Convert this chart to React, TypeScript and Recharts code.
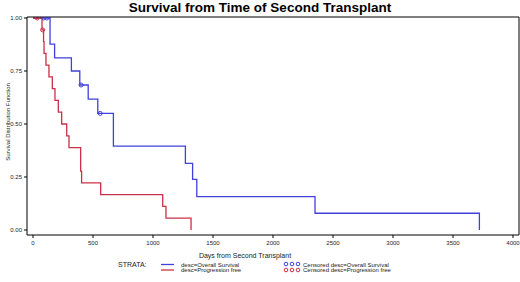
import React from "react";
import { ComposedChart, Line, Scatter, XAxis, YAxis } from "recharts";

const blueDays = [0, 142, 180, 320, 390, 460, 540, 670, 1270, 1330, 1365, 2350, 3720];
const blueSurv = [1, 0.877, 0.812, 0.75, 0.684, 0.617, 0.55, 0.396, 0.314, 0.239, 0.157, 0.079, 0];
const redDays = [0, 75, 88, 92, 108, 133, 161, 183, 211, 239, 281, 300, 397, 405, 564, 1081, 1108, 1317];
const redSurv = [1, 0.944, 0.889, 0.833, 0.778, 0.722, 0.667, 0.611, 0.556, 0.5, 0.444, 0.389, 0.278, 0.222, 0.167, 0.111, 0.056, 0];
const blueCensDays = [90, 115, 400, 560];
const blueCensSurv = [1, 1, 0.684, 0.55];
const redCensDays = [35, 80];
const redCensSurv = [1, 0.944];
const xTicks = [0, 500, 1000, 1500, 2000, 2500, 3000, 3500, 4000];
const yTicks = [0, 0.25, 0.5, 0.75, 1];

const BLUE = "#4040dc";
const RED = "#cc3048";
const FONT = "'Liberation Sans', Arial, sans-serif";

const toPts = (xs: number[], ys: number[]) => xs.map((d, i) => ({ day: d, s: ys[i] }));
const blueData = toPts(blueDays, blueSurv);
const redData = toPts(redDays, redSurv);
const blueCens = toPts(blueCensDays, blueCensSurv);
const redCens = toPts(redCensDays, redCensSurv);

const circle = (color: string) => (props: any) => (
  <circle cx={props.cx} cy={props.cy} r={2} fill="none" stroke={color} strokeWidth={1} />
);

export default function App() {
  const tickStyle = { fontSize: 6, fill: "#222", fontFamily: FONT };
  return (
    <div style={{ position: "absolute", left: 0, top: 0, width: 520, height: 282, background: "#fff" }}>
      <ComposedChart width={520} height={282} margin={{ top: 16, right: 0, bottom: 46, left: 26 }}>
        <XAxis
          xAxisId="b"
          dataKey="day"
          type="number"
          domain={[-50, 4050]}
          ticks={xTicks}
          height={1}
          tickSize={3}
          tickMargin={3}
          tick={tickStyle}
          axisLine={{ stroke: "#000" }}
          tickLine={{ stroke: "#000" }}
          allowDataOverflow
        />
        <XAxis xAxisId="t" orientation="top" type="number" dataKey="day" domain={[-50, 4050]} height={1} tick={false} tickLine={false} axisLine={{ stroke: "#000" }} />
        <YAxis
          yAxisId="l"
          type="number"
          dataKey="s"
          domain={[-0.0236, 1.0047]}
          ticks={yTicks}
          width={1}
          tickSize={3}
          tickMargin={2}
          tick={tickStyle}
          tickFormatter={(v: number) => v.toFixed(2)}
          axisLine={{ stroke: "#000" }}
          tickLine={{ stroke: "#000" }}
          allowDataOverflow
        />
        <YAxis yAxisId="r" orientation="right" type="number" dataKey="s" domain={[0, 1]} width={1} tick={false} tickLine={false} axisLine={{ stroke: "#000" }} />
        <Line xAxisId="b" yAxisId="l" data={blueData} dataKey="s" type="stepAfter" stroke={BLUE} strokeWidth={1.3} dot={false} isAnimationActive={false} />
        <Line xAxisId="b" yAxisId="l" data={redData} dataKey="s" type="stepAfter" stroke={RED} strokeWidth={1.3} dot={false} isAnimationActive={false} />
        <Scatter xAxisId="b" yAxisId="l" data={blueCens} dataKey="s" shape={circle(BLUE)} isAnimationActive={false} />
        <Scatter xAxisId="b" yAxisId="l" data={redCens} dataKey="s" shape={circle(RED)} isAnimationActive={false} />
        <Line xAxisId="t" yAxisId="r" data={blueData} dataKey="s" stroke="none" dot={false} isAnimationActive={false} legendType="none" />
      </ComposedChart>
      <svg width={520} height={282} style={{ position: "absolute", left: 0, top: 0, pointerEvents: "none" }}>
        <text x={260} y={12} textAnchor="middle" fontFamily={FONT} fontWeight="bold" fontSize={13.5} fill="#000">
          Survival from Time of Second Transplant
        </text>
        <text x={10} y={122} transform="rotate(-90 10 122)" textAnchor="middle" fontFamily={FONT} fontSize={6} fill="#222">
          Survival Distribution Function
        </text>
        <text x={245} y={258} textAnchor="middle" fontFamily={FONT} fontSize={7} fill="#222">
          Days from Second Transplant
        </text>
        <text x={118} y={267} fontFamily={FONT} fontSize={7} fill="#222">STRATA:</text>
        <line x1={161} x2={174} y1={264.5} y2={264.5} stroke={BLUE} strokeWidth={1.3} />
        <line x1={161} x2={174} y1={270} y2={270} stroke={RED} strokeWidth={1.3} />
        <text x={181} y={266.5} fontFamily={FONT} fontSize={6} fill="#222">desc=Overall Survival</text>
        <text x={181} y={272} fontFamily={FONT} fontSize={6} fill="#222">desc=Progression free</text>
        {[286, 292, 298].map((cx) => (
          <circle key={"b" + cx} cx={cx} cy={264} r={1.8} fill="none" stroke={BLUE} strokeWidth={1} />
        ))}
        {[286, 292, 298].map((cx) => (
          <circle key={"r" + cx} cx={cx} cy={270} r={1.8} fill="none" stroke={RED} strokeWidth={1} />
        ))}
        <text x={303} y={266.5} fontFamily={FONT} fontSize={6} fill="#222">Censored desc=Overall Survival</text>
        <text x={303} y={272} fontFamily={FONT} fontSize={6} fill="#222">Censored desc=Progression free</text>
      </svg>
    </div>
  );
}
